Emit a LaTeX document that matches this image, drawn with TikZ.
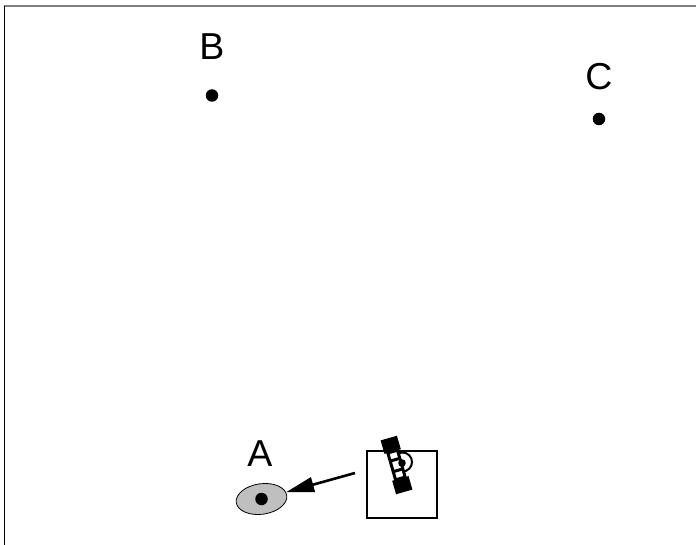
\documentclass[tikz,border=0pt]{standalone}
\usepackage{fontspec}
\setmainfont{Liberation Sans}
\usetikzlibrary{shapes.geometric,arrows.meta}
\tikzset{
  pt/.style={circle,fill=black,inner sep=0pt,minimum size=12.5},
  lab/.style={font=\fontsize{37.5}{37.5}\selectfont,inner sep=0pt,anchor=base},
}
\begin{document}
\begin{tikzpicture}[x=1pt,y=-1pt,line cap=butt]
\useasboundingbox (0,0) rectangle (696,545);
\draw[gray,line width=1.8] (4,5.7) -- (696,5.7);
\draw[black,line width=1.3] (4.5,5.7) -- (4.5,545);
\node[pt] (b) at (212,95.5) {};
\node[pt] (c) at (599,119) {};
\node[lab] (lb) at (212,60) {B};
\node[lab] (lc) at (599,90) {C};
\node[lab] (la) at (260,466) {A};
\node[draw=black,fill=gray!50,line width=0.8,ellipse,minimum width=51,minimum height=30.5,inner sep=0pt,rotate=8] (e) at (261.5,499) {};
\node[pt] (ad) at (261.5,499) {};
\node[draw=black,line width=2.4,minimum width=70,minimum height=67,inner sep=0pt] (sq) at (402,484.5) {};
\coordinate (s) at (355,473);
\draw[line width=2.6,-{Triangle[length=28,width=15]}] (s) -- (e);
\draw[line width=2,fill=white] (402.5,462) circle (9.5);
\begin{scope}[shift={(396.5,465)},rotate=16]
\fill (-8.5,-28) rectangle (8.5,-14);
\fill (-8.5,14) rectangle (8.5,28);
\draw[line width=3,fill=white] (-5,-14) rectangle (5,14);
\draw[line width=3] (-5,-5.5) -- (5,-5.5) (-5,5.5) -- (5,5.5);
\end{scope}
\fill (402,463) circle (3.8);
\end{tikzpicture}
\end{document}
